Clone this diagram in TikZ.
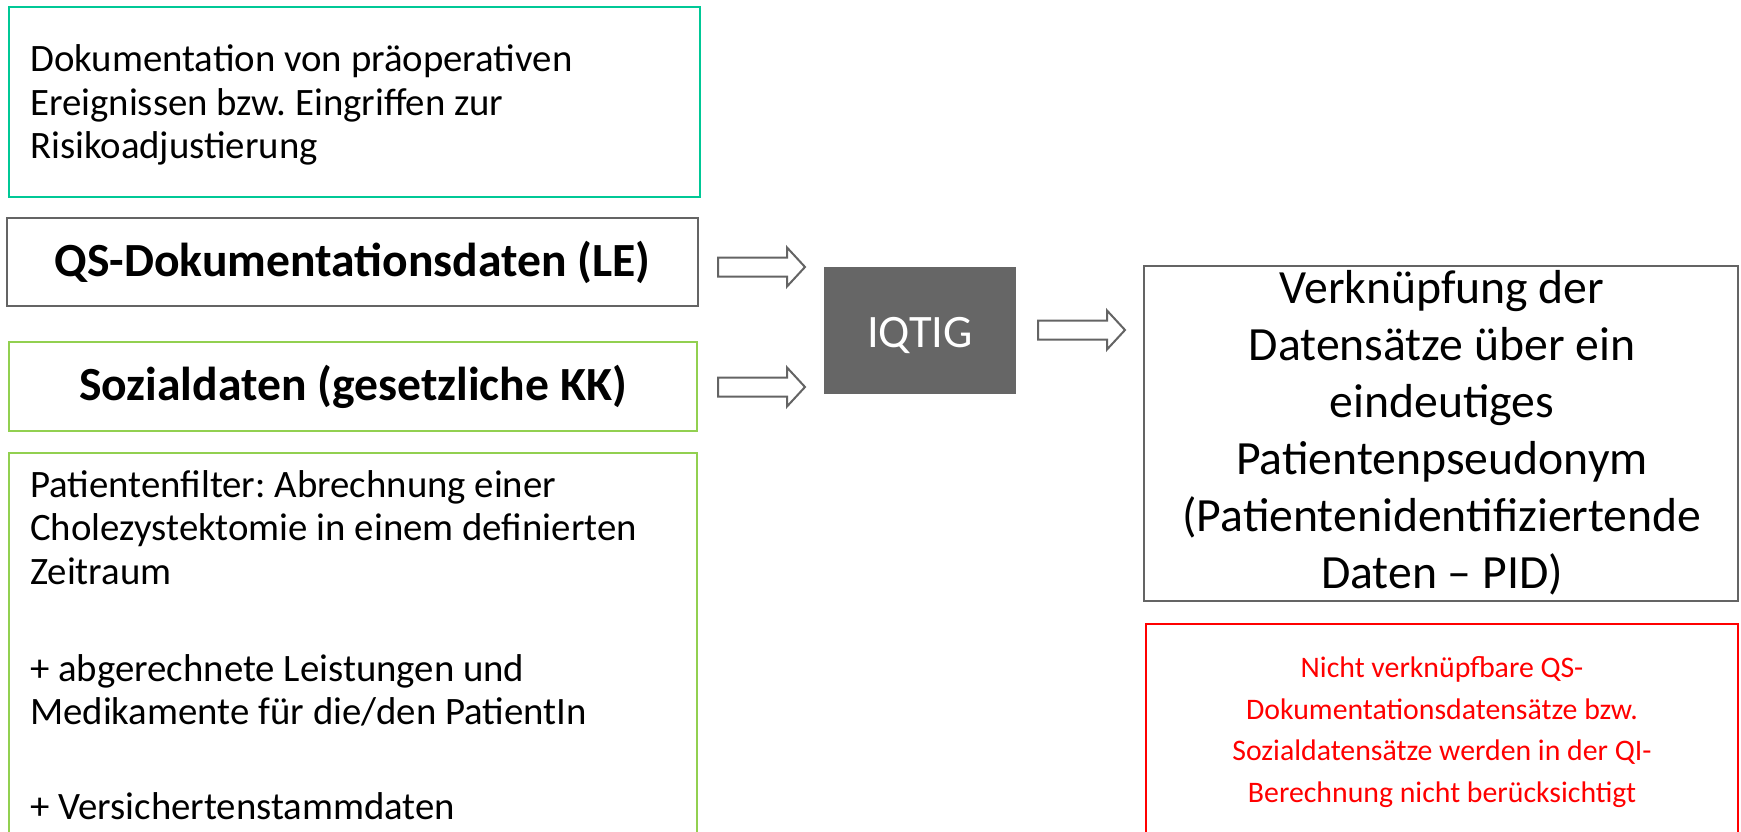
\documentclass[tikz,border=0pt]{standalone}
\usepackage{fontspec}
\setmainfont{Carlito}
\frenchspacing
\usetikzlibrary{calc}
\definecolor{tealc}{RGB}{0,200,150}
\definecolor{greenc}{RGB}{146,208,80}
\definecolor{grayb}{RGB}{100,100,100}
\definecolor{iqfill}{RGB}{102,102,102}
\definecolor{arrowc}{RGB}{100,100,100}
\definecolor{redc}{RGB}{255,0,0}
\tikzset{
  boxbase/.style={draw, line width=2.5pt, outer sep=0pt, inner sep=0pt, anchor=north west},
  tealbox/.style={boxbase, draw=tealc},
  greenbox/.style={boxbase, draw=greenc},
  graybox/.style={boxbase, draw=grayb},
  redbox/.style={boxbase, draw=redc},
  smalltext/.style={inner sep=0pt, align=left, font=\fontsize{38.8}{43.5}\selectfont},
  titletext/.style={inner sep=0pt, font=\fontsize{47.6}{57}\selectfont\bfseries},
  bigtext/.style={inner sep=0pt, align=center, font=\fontsize{47.7}{57}\selectfont},
  redtext/.style={inner sep=0pt, align=center, text=redc, font=\fontsize{29.8}{41.5}\selectfont},
  blockarrow/.style={draw=arrowc, fill=white, line width=2pt, line join=miter},
}
\begin{document}
\begin{tikzpicture}[x=1pt,y=-1pt]
\useasboundingbox (0,0) rectangle (1741,832);
\clip (0,0) rectangle (1741,832);
\fill[white] (0,0) rectangle (1741,832);

% left boxes
\node[tealbox, minimum width=691, minimum height=190] (doc) at (9,7) {};
\node[smalltext, anchor=west] (doctext) at (30,105) {Dokumentation von präoperativen\\Ereignissen bzw. Eingriffen zur\\Risikoadjustierung};

\node[graybox, minimum width=691, minimum height=88] (qs) at (7,218) {};
\node[titletext] (qstext) at (qs.center) {QS-Dokumentationsdaten (LE)};

\node[greenbox, minimum width=688, minimum height=89] (sd) at (9,342) {};
\node[titletext] (sdtext) at (sd.center) {Sozialdaten (gesetzliche KK)};

\node[greenbox, minimum width=688, minimum height=500] (pf) at (9,453) {};
\node[smalltext, anchor=north west] (pftext) at (30,470) {Patientenfilter: Abrechnung einer\\Cholezystektomie in einem definierten\\Zeitraum\\[53.5pt]+ abgerechnete Leistungen und\\Medikamente für die/den PatientIn\\[51.5pt]+ Versichertenstammdaten};

% IQTIG
\node[boxbase, draw=none, fill=iqfill, minimum width=192, minimum height=127] (iq) at (824,267) {};
\node[inner sep=0pt, text=white, anchor=base, font=\fontsize{46.5}{55}\selectfont] (iqtext) at (iq.center |- 0,347) {IQTIG};

% right boxes
\node[graybox, minimum width=594, minimum height=335] (vk) at (1144,266) {};
\node[bigtext] (vktext) at (1442,433) {Verknüpfung der\\Datensätze über ein\\eindeutiges\\Patientenpseudonym\\(Patientenidentifiziertende\\Daten – PID)};

\node[redbox, minimum width=592, minimum height=400] (nv) at (1146,624) {};
\node[redtext] (nvtext) at (1442,732) {Nicht verknüpfbare QS-\\Dokumentationsdatensätze bzw.\\Sozialdatensätze werden in der QI-\\Berechnung nicht berücksichtigt};

% block arrows
\coordinate (a1) at (718,267);
\coordinate (a2) at (718,387);
\coordinate (a3) at (1038,330);
\foreach \p in {a1,a2,a3} {
  \draw[blockarrow] ($(\p)+(0,-9.5)$) -- ++(69,0) -- ++(0,-10) -- ($(\p)+(87,0)$) -- ($(\p)+(69,19.5)$) -- ++(0,-10) -- ($(\p)+(0,9.5)$) -- cycle;
}
\end{tikzpicture}
\end{document}
